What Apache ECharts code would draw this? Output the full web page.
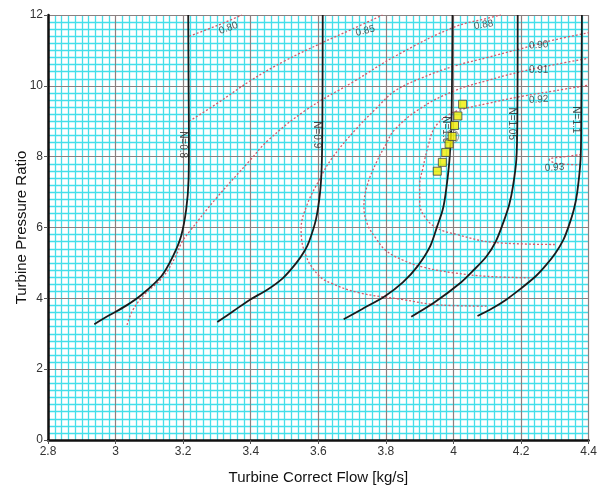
<!DOCTYPE html>
<html><head><meta charset="utf-8">
<script src="https://cdn.jsdelivr.net/npm/echarts@6/dist/echarts.min.js"></script>
<style>html,body{margin:0;padding:0;background:#fff}#c{width:600px;height:490px}</style>
</head><body><div id="c"></div>
<script>
// ---- speed lines (corrected flow [kg/s], pressure ratio) ----
const speedNames = ['N=0.8', 'N=0.9', 'N=1.0', 'N=1.05', 'N=1.1'];
const speed08 = [[2.937,3.27],[2.981,3.52],[3.029,3.78],[3.078,4.11],[3.136,4.63],[3.170,5.19],[3.194,5.76],[3.209,6.51],[3.216,7.35],[3.217,8.5],[3.216,10],[3.215,12]];
const speed09 = [[3.301,3.33],[3.35,3.65],[3.399,3.97],[3.45,4.25],[3.496,4.58],[3.535,5.0],[3.56,5.35],[3.573,5.61],[3.593,6.23],[3.605,6.98],[3.61,7.73],[3.612,9],[3.613,12]];
const speed10 = [[3.675,3.41],[3.73,3.7],[3.797,4.06],[3.85,4.45],[3.894,4.91],[3.93,5.45],[3.952,6.04],[3.968,6.5],[3.977,6.98],[3.988,7.9],[3.994,9],[3.997,12]];
const speed105 = [[3.875,3.48],[3.943,3.88],[4.021,4.44],[4.06,4.8],[4.098,5.19],[4.125,5.6],[4.147,6.13],[4.165,6.65],[4.176,7.16],[4.186,7.92],[4.189,9],[4.19,12]];
const speed11 = [[4.071,3.5],[4.115,3.72],[4.157,3.97],[4.2,4.28],[4.244,4.63],[4.275,4.95],[4.302,5.28],[4.325,5.65],[4.341,6.04],[4.356,6.5],[4.366,6.98],[4.376,7.92],[4.378,9],[4.38,12]];
const speedLabelPos = [[3.200,8.34],[3.596,8.62],[3.978,8.76],[4.173,8.93],[4.363,9.04]];

// ---- efficiency contours ----
const effNames = ['0.80', '0.85', '0.88', '0.90', '0.91', '0.92', '0.93'];
const eff080 = [[3.218,11.4],[3.30,11.7],[3.374,12.0]];
const eff085 = [[3.218,9.0],[3.30,9.5],[3.40,10.15],[3.50,10.7],[3.612,11.22],[3.70,11.6],[3.79,12.0]];
const eff088 = [[3.034,3.25],[3.05,3.65],[3.085,4.1],[3.14,4.6],[3.176,5.15],[3.197,5.6],[3.22,5.9],[3.30,6.85],[3.40,7.92],[3.45,8.45],[3.564,9.32],[3.71,10.15],[3.83,10.85],[4.0,11.65],[4.11,11.93],[4.14,12.0]];
const eff090 = [[4.098,3.78],[3.962,3.81],[3.846,3.97],[3.719,4.16],[3.64,4.42],[3.603,4.63],[3.564,5.19],[3.549,5.94],[3.565,6.6],[3.603,7.35],[3.64,7.95],[3.71,8.76],[3.77,9.35],[3.826,9.85],[3.9,10.2],[4.0,10.55],[4.1,10.8],[4.2,11.05],[4.3,11.3],[4.4,11.5]];
const eff091 = [[4.225,4.58],[4.1,4.62],[4.0,4.72],[3.91,4.88],[3.85,5.08],[3.80,5.35],[3.77,5.7],[3.745,6.1],[3.735,6.6],[3.745,7.2],[3.77,7.8],[3.80,8.35],[3.826,8.76],[3.9,9.35],[4.0,9.85],[4.1,10.15],[4.2,10.4],[4.3,10.6],[4.4,10.78]];
const eff092 = [[4.30,5.52],[4.118,5.58],[4.011,5.8],[3.952,5.98],[3.915,6.3],[3.90,6.7],[3.90,7.2],[3.91,7.7],[3.925,8.3],[3.943,8.8],[3.98,9.15],[4.02,9.32],[4.1,9.5],[4.2,9.7],[4.3,9.86],[4.4,10.02]];
const eff093 = [[4.378,8.06],[4.33,8.0],[4.283,7.92],[4.30,7.82],[4.34,7.78],[4.377,7.77]];
const effLabelPos = [[3.334,11.63],[3.739,11.55],[4.089,11.72],[4.252,11.15],[4.252,10.45],[4.252,9.61],[4.299,7.69]];
const effLabelRot = [20, 14, 10, 4, 0, 4, 4];

// ---- operating points ----
const opFlow = [3.952, 3.967, 3.977, 3.987, 3.996, 4.003, 4.013, 4.027];
const opPR   = [7.59, 7.84, 8.12, 8.36, 8.57, 8.88, 9.15, 9.48];
const markedIndex = 4;

const speedData = [speed08, speed09, speed10, speed105, speed11];
const effData = [eff080, eff085, eff088, eff090, eff091, eff092, eff093];

const FONT = "'Liberation Sans Narrow','Liberation Sans',Arial,sans-serif";
const series = [];
effData.forEach((d, i) => series.push({
  type: 'line', name: 'eff' + effNames[i], data: d, smooth: 0.4, symbol: 'none',
  lineStyle: { color: '#d4586a', width: 1.3, type: [2, 2] }, z: 3, silent: true
}));
speedData.forEach((d, i) => series.push({
  type: 'line', name: speedNames[i], data: d, smooth: 0.3, symbol: 'none',
  lineStyle: { color: '#1a1a1a', width: 1.8 }, z: 4, silent: true
}));
series.push({
  type: 'scatter', symbolSize: 0, z: 6, silent: true,
  data: speedLabelPos.map((p, i) => ({ value: p, name: speedNames[i] })),
  label: { show: true, position: 'inside', rotate: -90, formatter: '{b}', fontSize: 10, color: '#222', fontFamily: FONT }
});
series.push({
  type: 'scatter', symbolSize: 0, z: 6, silent: true,
  data: effLabelPos.map((p, i) => ({ value: p, name: effNames[i], label: { rotate: effLabelRot[i] } })),
  label: { show: true, position: 'inside', formatter: '{b}', fontSize: 10, color: '#333', fontFamily: FONT }
});
series.push({
  type: 'scatter', symbol: 'circle', symbolSize: 13, z: 7, silent: true,
  data: [[opFlow[markedIndex], opPR[markedIndex]]],
  itemStyle: { color: 'rgba(0,0,0,0)', borderColor: '#888', borderWidth: 1.2 }
});
series.push({
  type: 'scatter', symbol: 'rect', symbolSize: 8, z: 8, silent: true,
  data: opFlow.map((x, i) => [x, opPR[i]]),
  itemStyle: { color: '#f2ee00', borderColor: '#444', borderWidth: 1 }
});

const minorAxis = (extra) => Object.assign({
  type: 'value', axisLine: { show: false }, axisTick: { show: false }, axisLabel: { show: false },
  splitLine: { show: false },
  minorTick: { show: false, splitNumber: 10 },
  minorSplitLine: { show: true, lineStyle: { color: '#44dfea', width: 1.3 } }, z: 0
}, extra);
const majorAxis = (extra) => Object.assign({
  type: 'value',
  axisLine: { show: true, onZero: false, lineStyle: { color: '#111', width: 2.5 } },
  axisTick: { show: true, length: 4, lineStyle: { color: '#555' } },
  axisLabel: { color: '#333', fontSize: 12, fontFamily: FONT },
  splitLine: { show: true, lineStyle: { color: '#8a8080', width: 1.2 } },
  nameLocation: 'middle', nameMoveOverlap: false,
  nameTextStyle: { color: '#111', fontSize: 15, fontFamily: "'Liberation Sans',Arial,sans-serif" },
  z: 1
}, extra);

const chart = echarts.init(document.getElementById('c'), null, { renderer: 'canvas' });
chart.setOption({
  animation: false,
  backgroundColor: '#fff',
  grid: { left: 48, right: 2, top: 15, bottom: 49, containLabel: false },
  xAxis: [
    minorAxis({ min: 2.8, max: 4.4, interval: 0.2, position: 'bottom' }),
    majorAxis({ min: 2.8, max: 4.4, interval: 0.2, position: 'bottom', name: 'Turbine Correct Flow [kg/s]', nameGap: 30,
      axisLabel: { color: '#333', fontSize: 12, fontFamily: FONT, margin: 6, formatter: v => String(Math.round(v * 10) / 10) } })
  ],
  yAxis: [
    minorAxis({ min: 0, max: 12, interval: 2, position: 'left' }),
    majorAxis({ min: 0, max: 12, interval: 2, position: 'left', name: 'Turbine Pressure Ratio', nameGap: 19,
      axisLabel: { color: '#333', fontSize: 12, fontFamily: FONT, margin: 5 } })
  ],
  series: series
});
</script></body></html>
